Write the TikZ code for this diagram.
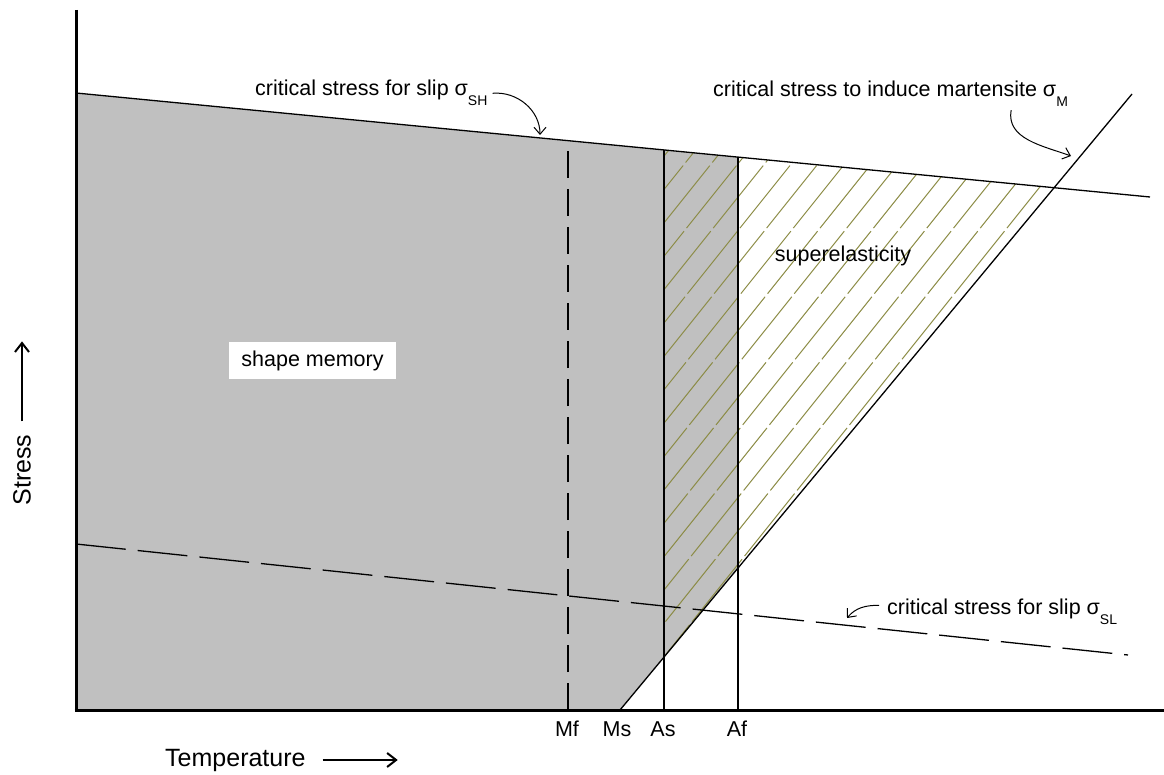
\documentclass[tikz,border=0pt]{standalone}
\usepackage{fontspec}
\setmainfont{Liberation Sans}
\usetikzlibrary{arrows.meta}
\definecolor{memgray}{RGB}{192,192,192}
\definecolor{hatchcol}{RGB}{140,140,70}
\newcommand{\lowsub}[1]{\raisebox{-10pt}{\fontsize{14}{14}\selectfont #1}}
\tikzstyle{annot} = [font=\fontsize{21.5}{24}\selectfont, inner sep=3pt]
\tikzstyle{axislabel} = [font=\fontsize{25}{28}\selectfont, inner sep=3pt]
\tikzstyle{boundary} = [line width=1.3pt]
\tikzstyle{hatch} = [hatchcol, line width=1pt, dash pattern=on 80pt off 4pt]
\tikzstyle{pointer} = [line width=1pt, -{Straight Barb[length=7pt,width=12pt]}]
\tikzstyle{axisarrow} = [line width=2pt, -{Straight Barb[length=9pt,width=14pt]}]

\begin{document}
\begin{tikzpicture}[x=1pt, y=-1pt]
            \useasboundingbox (0,0) rectangle (1164,775);

            % shape memory region
            \fill[memgray] (76,93) -- (738,157.1) -- (738,568.03) -- (620,710) -- (76,710) -- cycle;

            % hatching for superelasticity
            \begin{scope}
                \clip (664,149.94) -- (1054.1,187.71) -- (664,657.06) -- cycle;
                \foreach \c in {4,...,21}
                    \draw[hatch] ({655.4+26.7*\c-80},100) -- ({655.4+26.7*\c-576},720);
            \end{scope}

            % critical stress lines
            \draw[boundary] (76,93) -- (1150,197);
            \draw[boundary] (620,710) -- (1132,94);
            \draw[boundary, dash pattern=on 50pt off 12pt] (76,544) -- (1128,655);

            % transformation temperatures
            \draw[boundary, dash pattern=on 27pt off 11pt] (568,710) -- (568,140.64);
            \draw[boundary] (664,710) -- (664,149.94);
            \draw[boundary] (738,710) -- (738,157.1);

            % axes
            \draw[line width=3pt] (76,10) -- (76,711.5);
            \draw[line width=3pt] (74.5,710) -- (1164,710);

            \node [annot] at (567,729) (mf) {Mf};
            \node [annot] at (617,729) (ms) {Ms};
            \node [annot] at (663,729) (as) {As};
            \node [annot] at (737,729) (af) {Af};

            \node [annot, fill=white, minimum height=37pt, inner xsep=12pt] at (312.5,360.5) (shapemem) {shape memory};
            \node [annot] at (843,256) (superel) {superelasticity};

            \node [annot, anchor=base west] at (252,96) (sh) {critical stress for slip σ\lowsub{SH}};
            \node [annot, anchor=base west] at (710,97) (m) {critical stress to induce martensite σ\lowsub{M}};
            \node [annot, anchor=base west] at (884,614) (sl) {critical stress for slip σ\lowsub{SL}};

            \coordinate (shtip) at (540,135);
            \coordinate (mtip) at (1071,156);
            \coordinate (sltip) at (847,618);

            \draw [pointer] ([xshift=2pt]sh.east) to[out=5, in=90] (shtip);
            \draw [pointer] ([xshift=-60pt]m.south east) to[out=-100, in=160] (mtip);
            \draw [pointer] ([xshift=-5pt,yshift=6pt]sl.west) to[out=180, in=50] (sltip);

            \node [axislabel, anchor=base west] at (162,766) (temp) {Temperature};
            \node [axislabel, rotate=90] at (22,470) (stress) {Stress};
            \draw [axisarrow] ([xshift=14pt]temp.east) -- ++(75,0);
            \draw [axisarrow] ([yshift=10pt]stress.east) -- ++(0,-80);
\end{tikzpicture}
\end{document}
